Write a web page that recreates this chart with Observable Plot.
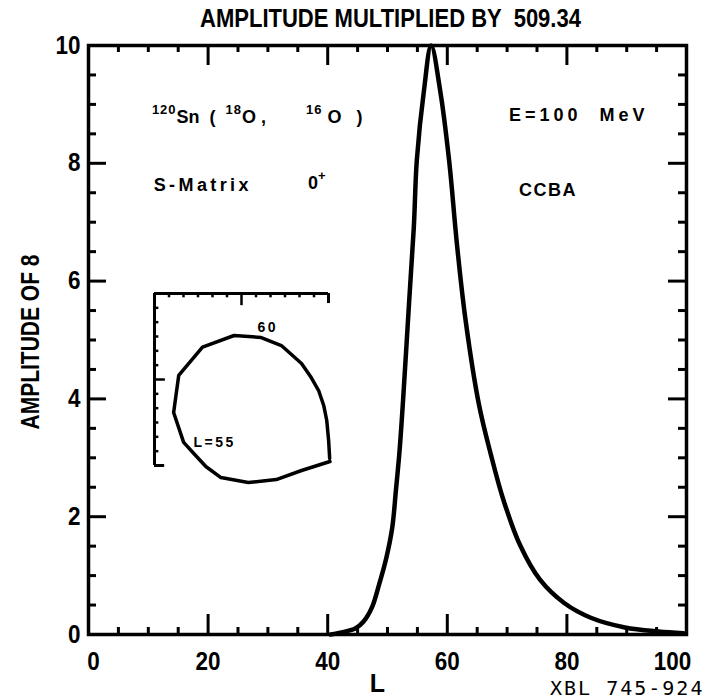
<!DOCTYPE html>
<html><head><meta charset="utf-8">
<script src="https://cdn.jsdelivr.net/npm/d3@7"></script>
<script src="https://cdn.jsdelivr.net/npm/@observablehq/plot@0.6"></script>
<style>
body{margin:0;background:#fff;}
#wrap{position:relative;width:706px;height:699px;overflow:hidden;background:#fff;}
#wrap svg{position:absolute;}
#caption{position:absolute;top:675.5px;left:550px;line-height:normal;font-family:"DejaVu Sans Mono","Liberation Mono",monospace;font-size:20px;letter-spacing:2px;color:#000;white-space:pre;}
</style></head>
<body>
<div id="wrap">
  <div id="main"></div>
  <div id="caption">XBL 745-924</div>
</div>
<script>
// ---- data ----
const curveL = [40.5,42.5,44.6,46,47.4,48.6,49.8,50.8,51.4,52.0,52.6,53.6,54.4,54.9,56.1,57.3,58.8,60.3,61.6,63.0,65.3,67.3,69.4,72.2,75.5,79.6,84.1,89.7,95.3,99.5];
const curveA = [0,0.04,0.1,0.22,0.46,0.85,1.3,1.82,2.44,3.1,3.97,5.62,6.91,8.05,9.24,10,9.24,8.05,6.64,5.38,3.9,3.05,2.28,1.51,0.93,0.53,0.28,0.12,0.05,0.02];

const xMinorTicks = [5,10,15,25,30,35,45,50,55,65,70,75,85,90,95];
const xMajorTicks = [20,40,60,80];
const xTickLabels = [20,40,60,80];
const yMinorTicks = [0.5,1,1.5,2.5,3,3.5,4.5,5,5.5,6.5,7,7.5,8.5,9,9.5];
const yMajorTicks = [2,4,6,8];
const yTickLabels = [0,2,4,6,8,10];

const titleText = "AMPLITUDE MULTIPLIED BY  509.34";
const yLabel = "AMPLITUDE OF 8";
const xLabel = "L";

const noteText = ["^{120}Sn  (  ^{18}O ,        ^{16} O   )", "E=100  MeV", "S-Matrix", "0^{+}", "CCBA"];
const noteL    = [10.6, 70.3, 10.9, 36.7, 72.0];
const noteA    = [8.79, 8.81, 7.62, 7.67, 7.54];

// inset (S-matrix Argand loop), arbitrary inset units
const loopU = [12.1,10.14,8.4,6.46,4.58,3.54,2.71,2.01,1.32,1.67,3.31,5.49,7.36,8.75,10.14,10.76,11.32,11.67,11.88,12.01,12.08];
const loopV = [0.28,-0.35,-0.98,-1.19,-0.84,-0.07,0.84,1.61,3.7,6.28,8.26,9.07,8.93,8.37,7.12,6.21,5.23,4.19,3.14,1.74,0.49];
const insetMinor = [1,2,3,4,5,7,8,9,10,11];
const insetMajor = [6];
const insetLabels = ["60", "L=55"];
const insetLabelU = [7.1, 2.69];
const insetLabelV = [9.63, 1.57];

// ---- styles ----
const W = 706, H = 699, mL = 88, mR = 20, mT = 45, mB = 65;
const fw = W - mL - mR, fh = H - mT - mB;
const sans = "Liberation Sans, Arial, Helvetica, sans-serif";
const noteSpacing = {"E=100  MeV": 4, "S-Matrix": 3.4, "CCBA": 1.5};
const condensedLength = {[titleText]: 381, [yLabel]: 175};
const digitWidth = 12.5;

const curve = curveL.map((L, i) => ({L, A: curveA[i]}));
const notes = noteText.map((t, i) => ({t, L: noteL[i], A: noteA[i]}));

const main = Plot.plot({
  width: W, height: H,
  marginLeft: mL, marginRight: mR, marginTop: mT, marginBottom: mB,
  x: {domain: [0, 100], axis: null},
  y: {domain: [0, 10], axis: null},
  style: {fontFamily: sans, fontWeight: "bold", background: "transparent", color: "black"},
  marks: [
    Plot.frame({stroke: "black", strokeWidth: 3.5}),
    Plot.tickX(xMinorTicks, {x: d => d, insetTop: fh - 7, strokeWidth: 3}),
    Plot.tickX(xMajorTicks, {x: d => d, insetTop: fh - 20, strokeWidth: 3}),
    Plot.tickX(xMinorTicks, {x: d => d, insetBottom: fh - 7, strokeWidth: 3}),
    Plot.tickX(xMajorTicks, {x: d => d, insetBottom: fh - 20, strokeWidth: 3}),
    Plot.tickY(yMinorTicks, {y: d => d, insetRight: fw - 8, strokeWidth: 3}),
    Plot.tickY(yMajorTicks, {y: d => d, insetRight: fw - 18, strokeWidth: 3}),
    Plot.tickY(yMinorTicks, {y: d => d, insetLeft: fw - 8, strokeWidth: 3}),
    Plot.tickY(yMajorTicks, {y: d => d, insetLeft: fw - 18, strokeWidth: 3}),
    Plot.axisX(xTickLabels, {anchor: "bottom", tickSize: 0, tickPadding: 18, fontSize: 25, label: null, tickFormat: d => String(d)}),
    Plot.axisX([0], {anchor: "bottom", tickSize: 0, tickPadding: 18, fontSize: 25, dx: 5, label: null, tickFormat: d => String(d)}),
    Plot.axisX([100], {anchor: "bottom", tickSize: 0, tickPadding: 18, fontSize: 25, dx: -14, label: null, tickFormat: d => String(d)}),
    Plot.axisY(yTickLabels, {anchor: "left", tickSize: 0, tickPadding: 8, fontSize: 25, label: null, tickFormat: d => String(d)}),
    Plot.text([titleText], {frameAnchor: "top", lineAnchor: "top", textAnchor: "middle", dy: -36.5, dx: 3, fontSize: 26}),
    Plot.text([yLabel], {frameAnchor: "left", textAnchor: "middle", rotate: -90, dx: -58, dy: 2, fontSize: 25}),
    Plot.text([xLabel], {frameAnchor: "bottom", dy: 57, dx: -10, fontSize: 25}),
    Plot.line(curve, {x: "L", y: "A", curve: "catmull-rom", stroke: "black", strokeWidth: 4.5}),
    Plot.text(notes, {x: "L", y: "A", text: "t", textAnchor: "start", fontSize: 18, fontWeight: "bold"})
  ]
});

main.style.left = "0px"; main.style.top = "0px";
document.getElementById("main").appendChild(main);

const SVGNS = "http://www.w3.org/2000/svg";
main.querySelectorAll("text").forEach(el => {
  const s = el.textContent;
  let target = null;
  if (/^\d+$/.test(s)) target = s.length * digitWidth;
  else if (s in condensedLength) target = condensedLength[s];
  if (target != null) {
    el.setAttribute("textLength", target);
    el.setAttribute("lengthAdjust", "spacingAndGlyphs");
    return;
  }
  if (!(s in noteSpacing) && !s.includes("^{")) return;
  el.style.whiteSpace = "pre";
  el.setAttributeNS("http://www.w3.org/XML/1998/namespace", "xml:space", "preserve");
  if (s in noteSpacing) el.style.letterSpacing = noteSpacing[s] + "px";
  if (!s.includes("^{")) return;
  const parts = s.split(/\^\{([^}]*)\}/);
  while (el.firstChild) el.removeChild(el.firstChild);
  let prevSup = false;
  parts.forEach((p, i) => {
    if (p === "") return;
    const ts = document.createElementNS(SVGNS, "tspan");
    ts.textContent = p;
    if (i % 2 === 1) {
      ts.setAttribute("font-size", "13");
      ts.style.letterSpacing = "1px";
      if (!prevSup) ts.setAttribute("dy", "-9");
      prevSup = true;
    } else {
      if (prevSup) ts.setAttribute("dy", "9");
      prevSup = false;
    }
    el.appendChild(ts);
  });
});

// ---- inset ----
const loop = loopU.map((u, i) => ({u, v: loopV[i]}));
const iLabels = insetLabels.map((t, i) => ({t, u: insetLabelU[i], v: insetLabelV[i]}));
const inset = Plot.plot({
  width: 210, height: 225, margin: 0,
  x: {domain: [0, 12], range: [14, 188], axis: null},
  y: {domain: [0, 12], range: [185, 13], axis: null},
  style: {background: "transparent", fontFamily: sans, fontWeight: "bold"},
  marks: [
    Plot.ruleX([0], {y1: 0, y2: 12, strokeWidth: 3}),
    Plot.ruleY([12], {x1: 0, x2: 12, strokeWidth: 3}),
    Plot.ruleX(insetMinor, {x: d => d, y1: 12, y2: 11.7, strokeWidth: 2.5}),
    Plot.ruleX(insetMajor, {x: d => d, y1: 12, y2: 11.15, strokeWidth: 2.5}),
    Plot.ruleX([12], {x: d => d, y1: 12, y2: 11.3, strokeWidth: 3}),
    Plot.ruleY(insetMinor, {y: d => d, x1: 0, x2: 0.3, strokeWidth: 2.5}),
    Plot.ruleY(insetMajor, {y: d => d, x1: 0, x2: 0.75, strokeWidth: 2.5}),
    Plot.ruleY([0], {y: d => d, x1: 0, x2: 0.7, strokeWidth: 3}),
    Plot.line(loop, {x: "u", y: "v", curve: "linear", stroke: "black", strokeWidth: 3.5, strokeLinejoin: "round"}),
    Plot.text(iLabels, {x: "u", y: "v", text: "t", textAnchor: "start", fontSize: 14})
  ]
});
inset.querySelectorAll("text").forEach(el => { el.style.letterSpacing = "2.5px"; });
inset.style.left = "140px"; inset.style.top = "280px";
document.getElementById("wrap").appendChild(inset);
</script>
</body></html>
